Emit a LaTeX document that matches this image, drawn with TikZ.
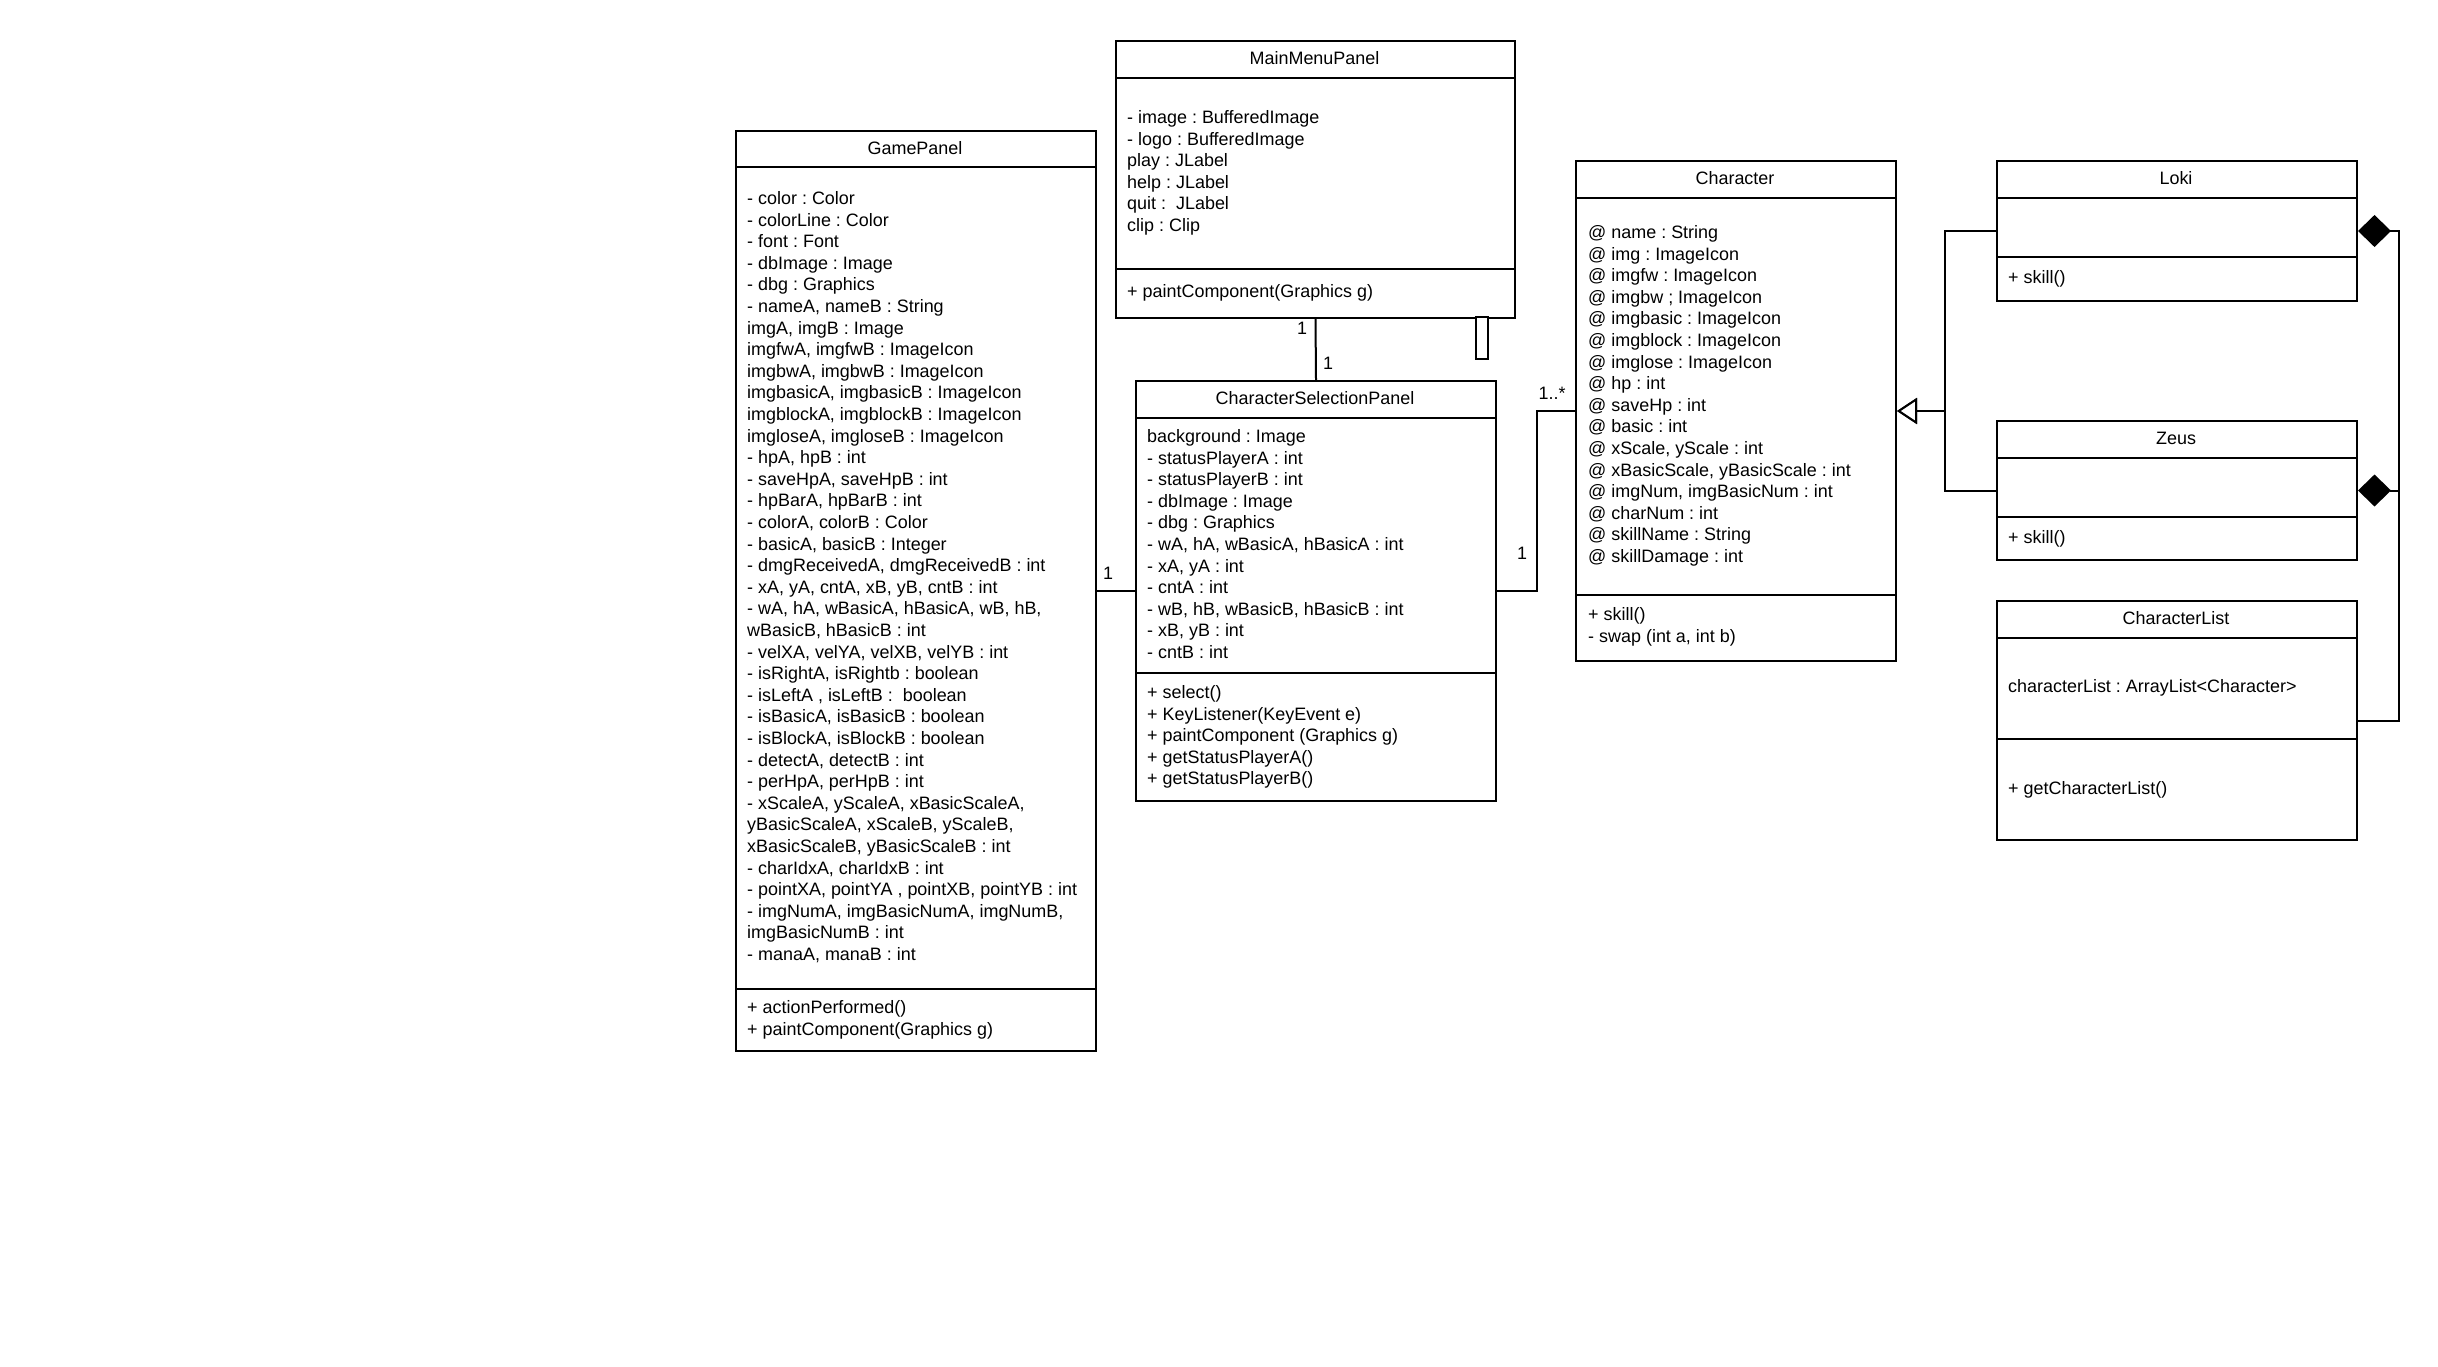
\documentclass[tikz,border=0pt]{standalone}
\usepackage{fontspec}
\setmainfont{Liberation Sans}
\usetikzlibrary{arrows.meta}
\frenchspacing
\tikzset{
  lw/.style={line width=2pt, draw=black},
  cls/.style={draw=black, line width=2pt, fill=white, inner sep=0pt, rectangle},
  txt/.style={font={\fontsize{17.95pt}{21.6pt}\selectfont\frenchspacing}, inner sep=0pt, text height=13pt, text depth=0pt},
  conn/.style={line width=2pt, draw=black},
  gen/.style={conn, -{Triangle[fill=white, length=20pt, width=26pt]}},
  comp/.style={conn, {Diamond[fill=black, length=33pt, width=32pt]}-},
}
\newcommand\classbox[8]{%
  \node[cls, minimum width={#4-#2}, minimum height={#5-#3}, anchor=north west] (#1) at (#2,#3) {};
  \draw[lw] (#2,#6) -- (#4,#6);
  \draw[lw] (#2,#7) -- (#4,#7);
  \node[txt, anchor=center] (#1t) at ({(#2+#4)/2},{(#3+#6)/2-1}) {#8};
}
\begin{document}
\begin{tikzpicture}[x=1pt, y=-1pt]
\useasboundingbox (0,0) rectangle (2438,1367);
\fill[white] (0,0) rectangle (2438,1367);

% GamePanel
\classbox{gp}{735}{130}{1095}{1050}{167.5}{989}{GamePanel}
\foreach \t [count=\i from 0] in {{- color : Color},{- colorLine : Color},{- font : Font},{- dbImage : Image},{- dbg : Graphics},{- nameA, nameB : String},{imgA, imgB : Image},{imgfwA, imgfwB : ImageIcon},{imgbwA, imgbwB : ImageIcon},{imgbasicA, imgbasicB : ImageIcon},{imgblockA, imgblockB : ImageIcon},{imgloseA, imgloseB : ImageIcon},{- hpA, hpB : int},{- saveHpA, saveHpB : int},{- hpBarA, hpBarB : int},{- colorA, colorB : Color},{- basicA, basicB : Integer},{- dmgReceivedA, dmgReceivedB : int},{- xA, yA, cntA, xB, yB, cntB : int},{- wA, hA, wBasicA, hBasicA, wB, hB,},{wBasicB, hBasicB : int},{- velXA, velYA, velXB, velYB : int},{- isRightA, isRightb : boolean},{- isLeftA , isLeftB :\ \ boolean},{- isBasicA, isBasicB : boolean},{- isBlockA, isBlockB : boolean},{- detectA, detectB : int},{- perHpA, perHpB : int},{- xScaleA, yScaleA, xBasicScaleA,},{yBasicScaleA, xScaleB, yScaleB,},{xBasicScaleB, yBasicScaleB : int},{- charIdxA, charIdxB : int},{- pointXA, pointYA , pointXB, pointYB : int},{- imgNumA, imgBasicNumA, imgNumB,},{imgBasicNumB : int},{- manaA, manaB : int}}
  \node[txt, anchor=west] (gpa\i) at (747, {198+21.6*\i}) {\t};
\foreach \t [count=\i from 0] in {{+ actionPerformed()},{+ paintComponent(Graphics g)}}
  \node[txt, anchor=west] (gpm\i) at (747, {1007+21.6*\i}) {\t};

% MainMenuPanel
\classbox{mm}{1115}{40}{1514}{317}{78}{269}{MainMenuPanel}
\foreach \t [count=\i from 0] in {{- image : BufferedImage},{- logo : BufferedImage},{play : JLabel},{help : JLabel},{quit :\ \ JLabel},{clip : Clip}}
  \node[txt, anchor=west] (mma\i) at (1127, {117+21.6*\i}) {\t};
\node[txt, anchor=west] (mmm0) at (1127, 291) {+ paintComponent(Graphics g)};
\draw[lw, fill=white] (1476,317) rectangle (1488,359);

% CharacterSelectionPanel
\classbox{csp}{1135}{380}{1495}{800}{418}{673}{CharacterSelectionPanel}
\foreach \t [count=\i from 0] in {{background : Image},{- statusPlayerA : int},{- statusPlayerB : int},{- dbImage : Image},{- dbg : Graphics},{- wA, hA, wBasicA, hBasicA : int},{- xA, yA : int},{- cntA : int},{- wB, hB, wBasicB, hBasicB : int},{- xB, yB : int},{- cntB : int}}
  \node[txt, anchor=west] (cspa\i) at (1147, {436+21.6*\i}) {\t};
\foreach \t [count=\i from 0] in {{+ select()},{+ KeyListener(KeyEvent e)},{+ paintComponent (Graphics g)},{+ getStatusPlayerA()},{+ getStatusPlayerB()}}
  \node[txt, anchor=west] (cspm\i) at (1147, {692+21.6*\i}) {\t};

% Character
\classbox{ch}{1575}{160}{1895}{660}{198}{595}{Character}
\foreach \t [count=\i from 0] in {{@ name : String},{@ img : ImageIcon},{@ imgfw : ImageIcon},{@ imgbw ; ImageIcon},{@ imgbasic : ImageIcon},{@ imgblock : ImageIcon},{@ imglose : ImageIcon},{@ hp : int},{@ saveHp : int},{@ basic : int},{@ xScale, yScale : int},{@ xBasicScale, yBasicScale : int},{@ imgNum, imgBasicNum : int},{@ charNum : int},{@ skillName : String},{@ skillDamage : int}}
  \node[txt, anchor=west] (cha\i) at (1588, {232+21.6*\i}) {\t};
\foreach \t [count=\i from 0] in {{+ skill()},{- swap (int a, int b)}}
  \node[txt, anchor=west] (chm\i) at (1588, {614+21.6*\i}) {\t};

% Loki
\classbox{loki}{1996}{160}{2356}{300}{198}{257}{Loki}
\node[txt, anchor=west] (lokim0) at (2008, 277) {+ skill()};

% Zeus
\classbox{zeus}{1996}{420}{2356}{559}{458}{517}{Zeus}
\node[txt, anchor=west] (zeusm0) at (2008, 537) {+ skill()};

% CharacterList
\classbox{cl}{1996}{600}{2356}{839}{638}{739}{CharacterList}
\node[txt, anchor=west] (cla0) at (2008, 686) {characterList : ArrayList<Character>};
\node[txt, anchor=west] (clm0) at (2008, 788) {+ getCharacterList()};

% Connectors
\draw[conn] (mm.south) -- (csp.north);
\node[txt] (l1) at (1302, 328) {1};
\node[txt] (l2) at (1328, 363) {1};

\draw[conn] (gp.east) -- (csp.west);
\node[txt] (l3) at (1108, 573) {1};

\draw[conn] (csp.east) -- ++(40,0) |- (ch.west);
\node[txt] (l4) at (1522, 553) {1};
\node[txt] (l5) at (1552, 393) {1..*};

\draw[gen] (loki.west) -- ++(-51,0) |- (ch.east);
\draw[gen] (zeus.west) -- ++(-51,0) |- (ch.east);

\draw[comp] (loki.east) -- ++(41,0) |- (cl.east);
\draw[comp] (zeus.east) -- ++(41,0) |- (cl.east);
\end{tikzpicture}
\end{document}
